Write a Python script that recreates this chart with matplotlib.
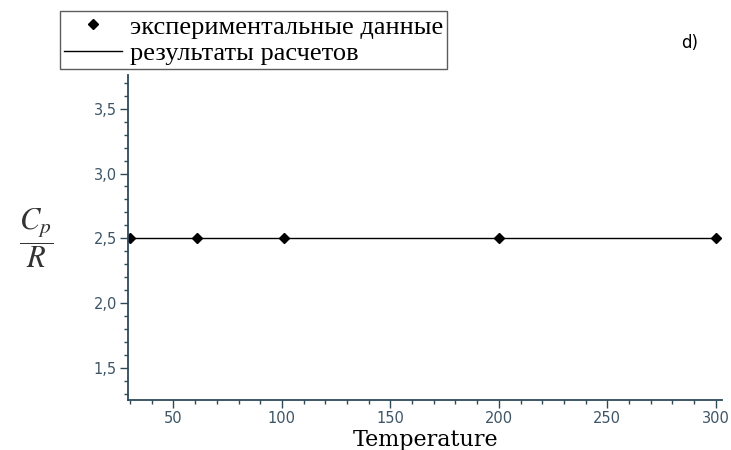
import matplotlib.pyplot as plt
from matplotlib.ticker import MultipleLocator

# experimental points and calculated result (Cp/R)
t_exp = [30, 61, 101, 200, 300]
cp_exp = [2.5, 2.5, 2.5, 2.5, 2.5]
t_calc = [29, 302]
cp_calc = [2.5, 2.5]
y_ticks = [1.5, 2.0, 2.5, 3.0, 3.5]

plt.rcParams['mathtext.fontset'] = 'stix'
axis_col = '#2e4a58'

fig = plt.figure(figsize=(7.31, 4.5), dpi=100)
ax = fig.add_axes([0.175, 0.111, 0.813, 0.722])

line, = ax.plot(t_calc, cp_calc, color='black', lw=1)
pts, = ax.plot(t_exp, cp_exp, 'D', color='black', markersize=5, ls='none')

ax.set_xlim(29, 303)
ax.xaxis.set_major_locator(MultipleLocator(50))
ax.xaxis.set_minor_locator(MultipleLocator(10))
ax.set_yticks(y_ticks)
ax.set_yticklabels([f'{v:.1f}'.replace('.', ',') for v in y_ticks])
ax.yaxis.set_minor_locator(MultipleLocator(0.1))
ax.set_ylim(1.25, 3.76)

for s in ['top', 'right']:
    ax.spines[s].set_visible(False)
for s in ['left', 'bottom']:
    ax.spines[s].set_color(axis_col)
    ax.spines[s].set_linewidth(1.3)
ax.tick_params(which='major', length=6, width=1, color=axis_col,
               labelsize=10.5, labelcolor='#3d5566', pad=2)
ax.tick_params(which='minor', length=3, width=1, color=axis_col)

fig.text(0.582, 0.022, 'Temperature', family='DejaVu Serif', fontsize=16,
         ha='center', va='center')
fig.text(0.05, 0.47, r'$\dfrac{C_p}{R}$', fontsize=22, ha='center', va='center',
         color='#333333')

fig.legend([pts, line], ['экспериментальные данные', 'результаты расчетов'],
           loc='upper left', bbox_to_anchor=(0.082, 0.975),
           prop={'family': 'Liberation Serif', 'size': 19},
           frameon=True, fancybox=False, edgecolor='#333333',
           handlelength=2.2, handletextpad=0.3, borderpad=0.15,
           labelspacing=0.1, borderaxespad=0)

fig.text(0.944, 0.905, 'd)', fontsize=12, ha='center', va='center')

fig.savefig('out.png')
